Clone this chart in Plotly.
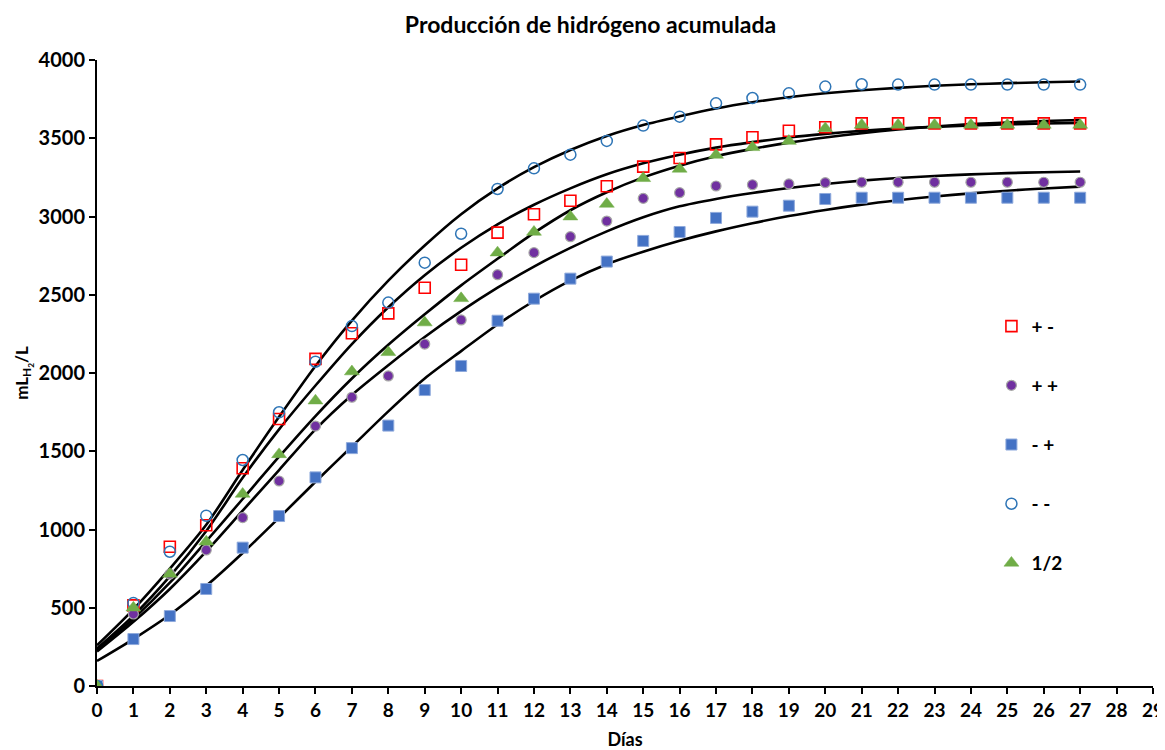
import plotly.graph_objects as go

dias = list(range(0, 28))

pm = [0, 515, 890, 1027, 1391, 1706, 2090, 2254, 2381, 2545, 2692, 2897, 3014, 3101,
      3193, 3319, 3374, 3461, 3506, 3548, 3570, 3595, 3595, 3595, 3595, 3595, 3595, 3595]
pp = [0, 460, 715, 869, 1076, 1310, 1661, 1845, 1981, 2185, 2339, 2628, 2769, 2871,
      2971, 3116, 3152, 3195, 3203, 3208, 3216, 3219, 3219, 3219, 3219, 3219, 3219, 3219]
mp = [0, 300, 447, 620, 884, 1086, 1333, 1520, 1664, 1891, 2045, 2334, 2475, 2603,
      2712, 2844, 2901, 2991, 3031, 3069, 3112, 3120, 3120, 3120, 3120, 3120, 3120, 3120]
mm = [0, 530, 858, 1088, 1444, 1749, 2072, 2300, 2450, 2705, 2890, 3176, 3308, 3395,
      3483, 3581, 3638, 3723, 3757, 3787, 3830, 3845, 3843, 3843, 3843, 3843, 3843, 3843]
half = [0, 500, 716, 922, 1227, 1480, 1823, 2009, 2132, 2322, 2477, 2769, 2901, 2999,
        3080, 3244, 3304, 3393, 3442, 3482, 3563, 3585, 3585, 3585, 3585, 3585, 3585, 3585]

# Fitted curves
fit_mm = [260, 490, 750, 1030, 1380, 1720, 2045, 2335, 2590, 2815, 3015, 3180, 3315, 3425,
          3515, 3585, 3640, 3690, 3730, 3762, 3787, 3807, 3822, 3835, 3845, 3852, 3858, 3863]
fit_pm = [240, 450, 700, 990, 1330, 1640, 1920, 2185, 2420, 2625, 2800, 2950, 3075, 3180,
          3270, 3340, 3395, 3440, 3475, 3505, 3528, 3547, 3562, 3573, 3582, 3589, 3594, 3598]
fit_half = [230, 430, 660, 925, 1195, 1465, 1725, 1965, 2180, 2375, 2560, 2730, 2895, 3040,
            3155, 3250, 3325, 3385, 3432, 3472, 3505, 3533, 3556, 3575, 3590, 3601, 3610, 3617]
fit_pp = [220, 410, 620, 860, 1120, 1380, 1640, 1860, 2050, 2230, 2395, 2545, 2680, 2800,
          2905, 2995, 3065, 3112, 3150, 3182, 3208, 3229, 3246, 3259, 3269, 3277, 3283, 3288]
fit_mp = [160, 300, 455, 640, 850, 1075, 1305, 1530, 1755, 1965, 2140, 2310, 2460, 2590,
          2695, 2775, 2845, 2905, 2957, 3003, 3042, 3076, 3104, 3128, 3148, 3165, 3179, 3191]

x_ticks = list(range(0, 30))
y_ticks = list(range(0, 4001, 500))

FONT = "Lato"

fig = go.Figure()

for fit in [fit_mm, fit_pm, fit_half, fit_pp, fit_mp]:
    fig.add_trace(go.Scatter(x=dias, y=fit, mode="lines", showlegend=False,
                             line=dict(color="black", width=2.6, shape="spline", smoothing=0.8),
                             hoverinfo="skip"))

series = [
    ("+ -", pm, dict(symbol="square-open", size=11, color="#FF0000", line=dict(width=1.6, color="#FF0000"))),
    ("+ +", pp, dict(symbol="circle", size=10, color="#7030A0", line=dict(width=1.2, color="#A6A6A6"))),
    ("- +", mp, dict(symbol="square", size=11, color="#4472C4", line=dict(width=1, color="#8FAADC"))),
    ("- -", mm, dict(symbol="circle-open", size=11, color="#2E75B6", line=dict(width=1.5, color="#2E75B6"))),
    ("1/2", half, dict(symbol="triangle-up", size=13, color="#70AD47", line=dict(width=0.5, color="#70AD47"))),
]
for i, (name, vals, mk) in enumerate(series):
    fig.add_trace(go.Scatter(x=dias, y=vals, mode="markers", name=f"<b>{name}</b>", marker=mk,
                             legendgroup=f"g{i}"))

fig.update_layout(
    width=1165, height=750,
    paper_bgcolor="white", plot_bgcolor="white",
    margin=dict(l=89, r=20, t=52, b=72),
    title=dict(text="<b>Producción de hidrógeno acumulada</b>", x=0.5, xanchor="center",
               y=0.977, yanchor="middle", font=dict(family=FONT, size=23, color="black")),
    font=dict(family=FONT, size=18, color="black"),
    legend=dict(x=0.847, y=0.605, xanchor="left", yanchor="top", tracegroupgap=31.5,
                font=dict(family=FONT, size=19, color="black"), bgcolor="rgba(0,0,0,0)",
                itemwidth=30),
    showlegend=True,
)

fig.update_xaxes(range=[0, 29], tickvals=x_ticks, ticktext=[f"<b>{t}</b>" for t in x_ticks],
                 automargin=False,
                 showgrid=False, zeroline=False, showline=True, linecolor="black", linewidth=2,
                 ticks="outside", ticklen=6, tickwidth=2, tickcolor="black",
                 tickfont=dict(family=FONT, size=19, color="black"),
                 title=dict(text="<b>Días</b>", font=dict(family=FONT, size=18, color="black"), standoff=14))
fig.update_yaxes(range=[0, 4000], tickvals=y_ticks, ticktext=[f"<b>{t}</b>" for t in y_ticks],
                 automargin=False,
                 showgrid=False, zeroline=False, showline=True, linecolor="black", linewidth=2,
                 ticks="outside", ticklen=6, tickwidth=2, tickcolor="black",
                 tickfont=dict(family=FONT, size=20, color="black"),
                 title=dict(text="<b>mL<sub>H<sub>2</sub></sub>/L</b>", font=dict(family=FONT, size=17, color="black"), standoff=6))

fig.write_html("out.html")
